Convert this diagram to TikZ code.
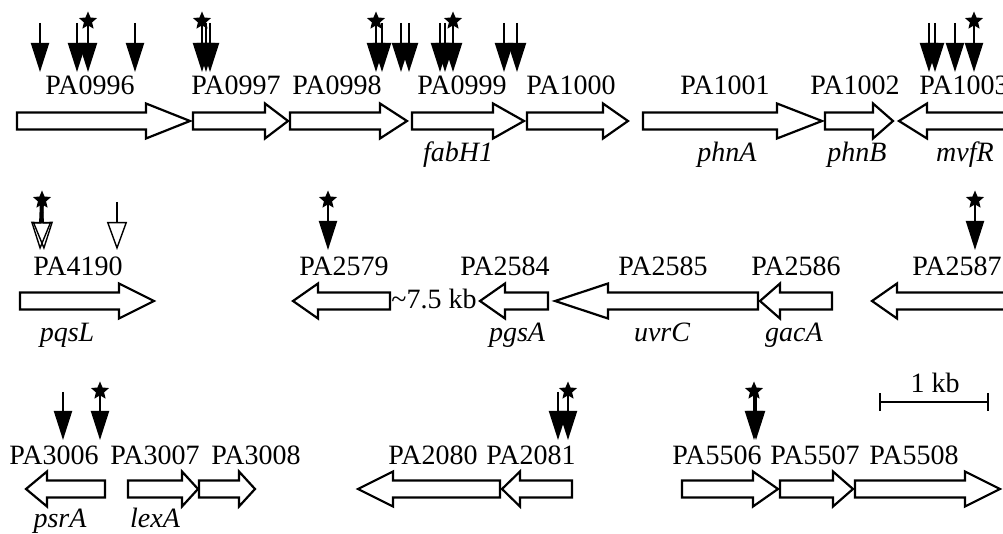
\documentclass[tikz,border=0pt]{standalone}
\usepackage{fontspec}
\setmainfont{Liberation Serif}
\usetikzlibrary{arrows.meta,shapes.geometric}

% gene drawn as a block arrow: start, head base, tip, centre line
\newcommand{\GeneR}[4]{\draw[gene] (#1,#4-8.5) -- (#2,#4-8.5) -- (#2,#4-17.5) -- (#3,#4) -- (#2,#4+17.5) -- (#2,#4+8.5) -- (#1,#4+8.5) -- cycle;}
\newcommand{\GeneL}[4]{\draw[gene] (#1,#4) -- (#2,#4-17.5) -- (#2,#4-8.5) -- (#3,#4-8.5) -- (#3,#4+8.5) -- (#2,#4+8.5) -- (#2,#4+17.5) -- cycle;}
% insertion: x, top, tip
\newcommand{\Hit}[3]{\draw[hit] (#1,#2) -- (#1,#3);}
% insertion with a star: name, x, top, tip
\newcommand{\HitTn}[4]{\node[tn] (#1) at (#2+2,#3) {}; \draw[hit] (#1.center) -- (#2+2,#4);}

\tikzset{
	gene/.style={draw,fill=white,line width=1.1pt,line join=miter},
	locus/.style={font=\fontsize{14}{16}\selectfont,anchor=base,inner sep=0pt},
	gname/.style={font=\fontsize{14}{16}\selectfont\itshape,anchor=base,inner sep=0pt},
	hit/.style={line width=1pt,-{Triangle[length=14.5pt,width=9pt]}},
	hitopen/.style={line width=1pt,-{Triangle[open,length=14pt,width=10pt,line width=0.7pt]}},
	tn/.style={star,star points=5,star point ratio=2.2,fill,inner sep=0pt,minimum size=9.5pt}
}

\begin{document}
\begin{tikzpicture}[x=0.5pt,y=-0.5pt]
	\useasboundingbox (0,0) rectangle (1003,534);
	\clip (0,0) rectangle (1003,534);
	% row 1
		\GeneR{17}{146}{190}{121}
		\GeneR{193}{265}{288}{121}
		\GeneR{290}{380}{407}{121}
		\GeneR{412}{493}{524}{121}
		\GeneR{527}{603}{628}{121}
		\GeneR{643}{777}{822}{121}
		\GeneR{825}{873}{893}{121}
		\GeneL{899}{927}{1012}{121}
		\node[locus] (pa0996) at (90,95) {PA0996};
		\node[locus] (pa0997) at (236,95) {PA0997};
		\node[locus] (pa0998) at (337,95) {PA0998};
		\node[locus] (pa0999) at (462,95) {PA0999};
		\node[locus] (pa1000) at (571,95) {PA1000};
		\node[locus] (pa1001) at (725,95) {PA1001};
		\node[locus] (pa1002) at (855,95) {PA1002};
		\node[locus] (pa1003) at (964,95) {PA1003};
		\node[gname] (fabH) at (458,162) {fabH1};
		\node[gname] (phnA) at (727,162) {phnA};
		\node[gname] (phnB) at (857,162) {phnB};
		\node[gname] (mvfR) at (965,162) {mvfR};
		\Hit{40}{23}{72}
		\Hit{77}{23}{72}
		\HitTn{s1}{86}{21}{72}
		\Hit{135}{23}{72}
		\HitTn{s2}{200}{21}{72}
		\Hit{206}{23}{72}
		\Hit{210}{23}{72}
		\HitTn{s3}{374}{21}{72}
		\Hit{382}{23}{72}
		\Hit{401}{23}{72}
		\Hit{409}{23}{72}
		\Hit{440}{23}{72}
		\Hit{445}{23}{72}
		\HitTn{s4}{451}{21}{72}
		\Hit{504}{23}{72}
		\Hit{517}{23}{72}
		\Hit{929}{23}{72}
		\Hit{935}{23}{72}
		\Hit{955}{23}{72}
		\HitTn{s5}{972}{21}{72}
	% row 2
		\GeneR{20}{119}{154}{301}
		\GeneL{293}{318}{390}{301}
		\GeneL{480}{505}{548}{301}
		\GeneL{555}{608}{758}{301}
		\GeneL{760}{780}{832}{301}
		\GeneL{872}{897}{1012}{301}
		\node[locus] (pa4190) at (78,276) {PA4190};
		\node[locus] (pa2579) at (344,276) {PA2579};
		\node[locus] (pa2584) at (505,276) {PA2584};
		\node[locus] (pa2585) at (663,276) {PA2585};
		\node[locus] (pa2586) at (796,276) {PA2586};
		\node[locus] (pa2587) at (957,276) {PA2587};
		\node[locus] (gap) at (434,309) {\textasciitilde7.5 kb};
		\node[gname] (pqsL) at (67,342) {pqsL};
		\node[gname] (pgsA) at (517,342) {pgsA};
		\node[gname] (uvrC) at (662,342) {uvrC};
		\node[gname] (gacA) at (794,342) {gacA};
		\node[tn] (s6) at (42,200) {};
		\draw[hitopen,line width=2pt] (s6.center) -- (40,250);
		\draw[hitopen] (s6.center) -- (44,250);
		\draw[hitopen] (117,202) -- (117,250);
		\HitTn{s7}{326}{200}{250}
		\HitTn{s8}{973}{200}{250}
	% row 3
		\GeneL{26}{47}{105}{489}
		\GeneR{128}{182}{198}{489}
		\GeneR{199}{239}{255}{489}
		\GeneL{358}{393}{500}{489}
		\GeneL{502}{520}{572}{489}
		\GeneR{682}{753}{778}{489}
		\GeneR{780}{833}{853}{489}
		\GeneR{855}{965}{1000}{489}
		\node[locus] (pa3006) at (54,465) {PA3006};
		\node[locus] (pa3007) at (155,465) {PA3007};
		\node[locus] (pa3008) at (256,465) {PA3008};
		\node[locus] (pa2080) at (433,465) {PA2080};
		\node[locus] (pa2081) at (531,465) {PA2081};
		\node[locus] (pa5506) at (717,465) {PA5506};
		\node[locus] (pa5507) at (815,465) {PA5507};
		\node[locus] (pa5508) at (914,465) {PA5508};
		\node[gname] (psrA) at (60,528) {psrA};
		\node[gname] (lexA) at (155,528) {lexA};
		\Hit{63}{392}{440}
		\HitTn{s9}{98}{391}{440}
		\Hit{558}{392}{440}
		\HitTn{s10}{566}{391}{440}
		\HitTn{s11}{752}{391}{440}
		\Hit{756}{393}{440}
	% scale bar
		\coordinate (kbL) at (879,402);
		\coordinate (kbR) at (989,402);
		\draw[line width=1pt,{Bar[width=9pt]}-{Bar[width=9pt]}] (kbL) -- (kbR);
		\node[locus] (kb) at (935,393) {1 kb};
\end{tikzpicture}
\end{document}
